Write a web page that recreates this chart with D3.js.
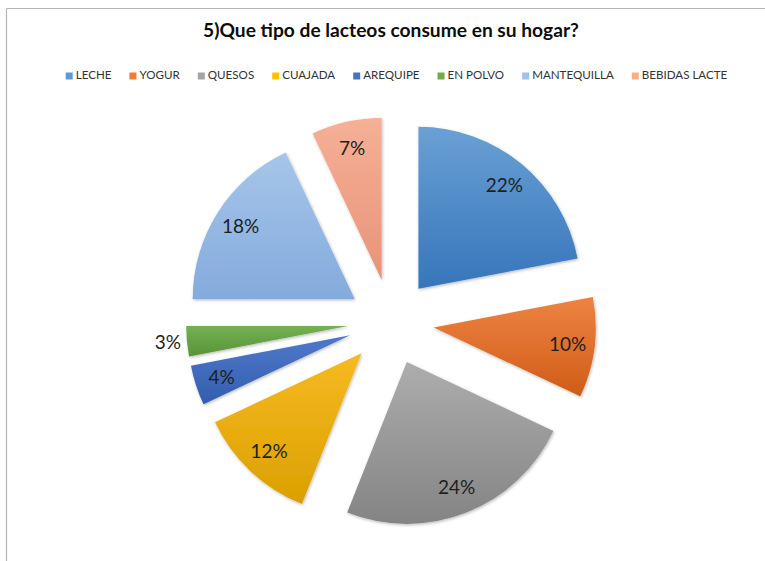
<!DOCTYPE html>
<html>
<head>
<meta charset="utf-8">
<script src="https://cdn.jsdelivr.net/npm/d3@7"></script>
<style>
  html, body { margin: 0; padding: 0; background: #ffffff; }
  svg { display: block; }
  text { font-family: Lato, "Open Sans", sans-serif; }
</style>
</head>
<body>
<svg id="chart" width="765" height="561"></svg>
<script>
// Dairy consumption survey: share of households per product type
const title = "5)Que tipo de lacteos consume en su hogar?";
const categories = ["LECHE", "YOGUR", "QUESOS", "CUAJADA", "AREQUIPE", "EN POLVO", "MANTEQUILLA", "BEBIDAS LACTE"];
const values = [22, 10, 24, 12, 4, 3, 18, 7];
const baseColors = ["#5b9bd5", "#ed7d31", "#a5a5a5", "#ffc000", "#4472c4", "#70ad47", "#9dc3e6", "#f4b183"];
const topColors = ["#6aa0d4", "#ee8342", "#adadad", "#f6ba22", "#4f79ca", "#75b052", "#a6c5e9", "#f5b095"];
const bottomColors = ["#3675bb", "#cf5c18", "#848484", "#dba000", "#335eae", "#579437", "#84abdd", "#e8937a"];

const W = 765, H = 561;
const cx = 391, cy = 322;      // pie centre
const R = 162;                 // slice radius
const explode = 43;            // distance each slice is pulled out
const labelDist = 135;         // inside label distance from slice apex

const svg = d3.select("#chart");
const defs = svg.append("defs");

// soft outer shadow under the slices
const shadow = defs.append("filter").attr("id", "shadow")
  .attr("x", "-20%").attr("y", "-20%").attr("width", "140%").attr("height", "140%");
shadow.append("feDropShadow")
  .attr("dx", 0.8).attr("dy", 1.2).attr("stdDeviation", 1.4)
  .attr("flood-color", "#000").attr("flood-opacity", 0.28);

categories.forEach((c, i) => {
  const g = defs.append("linearGradient").attr("id", "grad" + i)
    .attr("x1", 0).attr("y1", 0).attr("x2", 0).attr("y2", 1);
  g.append("stop").attr("offset", "0%").attr("stop-color", topColors[i]);
  g.append("stop").attr("offset", "100%").attr("stop-color", bottomColors[i]);
});

// chart frame (top and left edges)
svg.append("line").attr("x1", 6.5).attr("y1", 8.5).attr("x2", W).attr("y2", 8.5)
  .attr("stroke", "#b4b4b4").attr("stroke-width", 1.2);
svg.append("line").attr("x1", 6.5).attr("y1", 8.5).attr("x2", 6.5).attr("y2", H)
  .attr("stroke", "#b4b4b4").attr("stroke-width", 1.2);

// title
svg.append("text")
  .attr("x", 391).attr("y", 37)
  .attr("text-anchor", "middle")
  .attr("font-size", 19.2).attr("font-weight", 700)
  .attr("fill", "#0d0d0d")
  .text(title);

// legend, centred as one row
const legend = svg.append("g").attr("class", "legend");
const items = legend.selectAll("g").data(categories).join("g");
items.append("rect").attr("width", 7).attr("height", 7).attr("y", -6.5)
  .attr("fill", (d, i) => baseColors[i]);
items.append("text").attr("x", 10).attr("y", 0)
  .attr("font-size", 11.6).attr("fill", "#333333")
  .text(d => d);
let xPos = 0;
const gap = 18;
items.each(function () {
  const w = d3.select(this).select("text").node().getComputedTextLength();
  d3.select(this).attr("transform", `translate(${xPos},0)`);
  xPos += 10 + w + gap;
});
const legendWidth = xPos - gap;
legend.attr("transform", `translate(${396.5 - legendWidth / 2},79)`);

// exploded pie
const pie = d3.pie().sort(null).value(d => d.v).startAngle(0).endAngle(2 * Math.PI);
const arcs = pie(categories.map((c, i) => ({ c, v: values[i], i })));
const arc = d3.arc().innerRadius(0).outerRadius(R);

const dir = a => [Math.sin(a), -Math.cos(a)];

const slices = svg.append("g").attr("transform", `translate(${cx},${cy})`);
slices.selectAll("path").data(arcs).join("path")
  .attr("transform", d => {
    const [dx, dy] = dir((d.startAngle + d.endAngle) / 2);
    return `translate(${dx * explode},${dy * explode})`;
  })
  .attr("d", arc)
  .attr("fill", d => `url(#grad${d.data.i})`)
  .attr("filter", "url(#shadow)");

// percentage labels
const total = d3.sum(values);
slices.selectAll("text.pct").data(arcs).join("text")
  .attr("class", "pct")
  .each(function (d) {
    const [dx, dy] = dir((d.startAngle + d.endAngle) / 2);
    const thin = d.data.v / total < 0.035;
    const dist = explode + (thin ? R + 6 : labelDist);
    d3.select(this)
      .attr("x", dx * dist)
      .attr("y", dy * dist)
      .attr("text-anchor", thin ? "end" : "middle");
  })
  .attr("dy", "0.35em")
  .attr("font-size", 19)
  .attr("fill", "#1e1e1e")
  .text(d => Math.round(d.data.v / total * 100) + "%");
</script>
</body>
</html>
